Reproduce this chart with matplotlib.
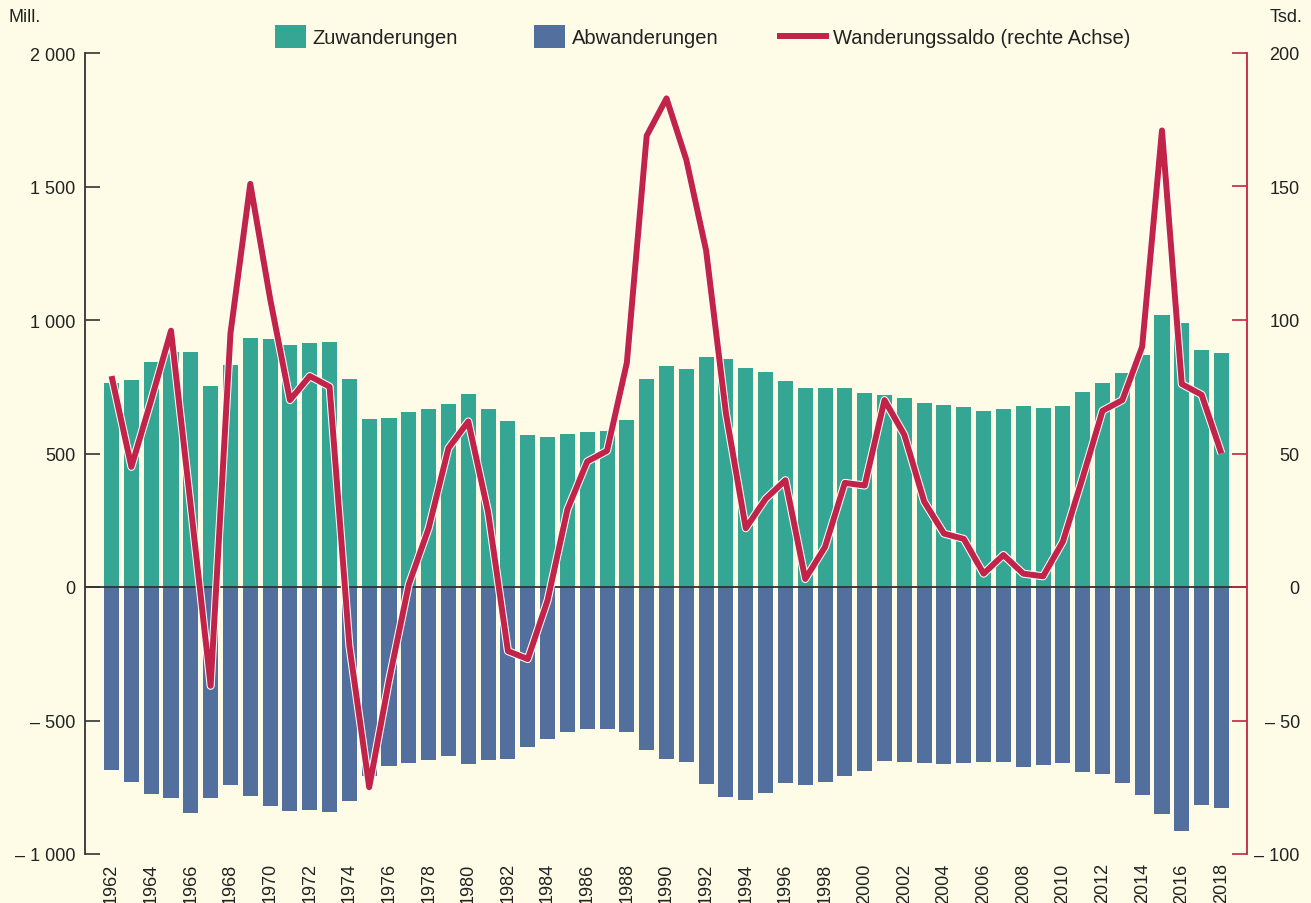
import matplotlib
matplotlib.use("Agg")
import matplotlib.pyplot as plt
import matplotlib.patheffects as pe
from matplotlib.patches import Rectangle, Patch
from matplotlib.lines import Line2D
from matplotlib.legend_handler import HandlerPatch

# ---------------- data ----------------
years = list(range(1962, 2019))
zuwanderungen = [764, 775, 843, 880, 880, 753, 831, 933, 929, 906, 914, 918, 779, 629, 633,
                 655, 667, 685, 723, 667, 622, 569, 562, 573, 580, 584, 625, 779, 828, 816,
                 861, 854, 820, 805, 771, 745, 745, 745, 727, 719, 708, 689, 682, 674, 659,
                 667, 678, 670, 678, 730, 764, 801, 869, 1019, 989, 888, 876]
abwanderungen = [-685, -729, -775, -790, -846, -790, -742, -783, -820, -839, -835, -843, -801,
                 -707, -670, -659, -648, -633, -663, -648, -644, -599, -569, -543, -532, -532,
                 -543, -610, -644, -655, -738, -787, -798, -772, -734, -742, -730, -708, -689,
                 -652, -655, -659, -663, -659, -655, -655, -674, -667, -659, -693, -700, -734,
                 -779, -850, -914, -816, -828]
saldo = [79, 45, 70, 96, 30, -37, 95, 151, 108, 70, 79, 75, -22, -75, -35, 1, 22, 52, 62, 28,
         -24, -27, -5, 29, 47, 51, 84, 169, 183, 160, 126, 65, 22, 33, 40, 3, 15, 39, 38, 70,
         57, 32, 20, 18, 5, 12, 5, 4, 17, 41, 66, 70, 90, 171, 76, 72, 50]

left_ticks = [-1000, -500, 0, 500, 1000, 1500, 2000]
left_labels = ["\u2013 1 000", "\u2013 500", "0", "500", "1 000", "1 500", "2 000"]
right_ticks = [-100, -50, 0, 50, 100, 150, 200]
right_labels = ["\u2013 100", "\u2013 50", "0", "50", "100", "150", "200"]
legend_labels = ["Zuwanderungen", "Abwanderungen", "Wanderungssaldo (rechte Achse)"]

# ---------------- style ----------------
BG = "#FEFCE6"
TEAL = "#35A594"
BLUE = "#526F9E"
RED = "#C12448"
TXT = "#222222"
FONT = ["Liberation Sans", "DejaVu Sans"]
NARROW = ["Liberation Sans Narrow", "Liberation Sans", "DejaVu Sans"]

plt.rcParams["font.family"] = FONT

fig = plt.figure(figsize=(13.11, 9.04), dpi=100, facecolor=BG)
ax = fig.add_axes([85 / 1311, 1 - 855 / 904, (1247 - 85) / 1311, (855 - 54) / 904])
ax.set_facecolor(BG)

ax.bar(years, zuwanderungen, width=0.76, color=TEAL, zorder=2)
ax.bar(years, abwanderungen, width=0.76, color=BLUE, zorder=2)
ax.axhline(0, color="#333333", lw=1.3, zorder=3)

ax.set_xlim(1960.66, 2019.29)
ax.set_ylim(-1000, 2000)
ax.set_yticks(left_ticks)
ax.set_yticklabels(left_labels)
ax.tick_params(axis="y", direction="in", length=11, width=1.2, color="#333333",
               pad=7, labelsize=13, labelcolor=TXT)
ax.set_xticks(years[::2])
ax.set_xticklabels([str(y) for y in years[::2]], rotation=90, family=NARROW)
ax.tick_params(axis="x", length=0, pad=6, labelsize=13, labelcolor=TXT)
for s in ["top", "bottom", "right"]:
    ax.spines[s].set_visible(False)
ax.spines["left"].set_color("#333333")
ax.spines["left"].set_linewidth(1.3)

ax2 = ax.twinx()
ax2.set_ylim(-100, 200)
ax2.plot(years, saldo, color=RED, lw=4.3, solid_joinstyle="round", solid_capstyle="butt",
         zorder=5,
         path_effects=[pe.Stroke(linewidth=5.8, foreground="white", joinstyle="round"),
                       pe.Normal()])
ax2.set_yticks(right_ticks)
ax2.set_yticklabels(right_labels)
ax2.tick_params(axis="y", direction="in", length=11, width=1.2, color=RED,
                pad=38, labelsize=13, labelcolor=TXT)
for t in ax2.get_yticklabels():
    t.set_horizontalalignment("right")
for s in ["top", "bottom", "left"]:
    ax2.spines[s].set_visible(False)
ax2.spines["right"].set_color(RED)
ax2.spines["right"].set_linewidth(1.3)

fig.text(8 / 1311, 1 - 18 / 904, "Mill.", fontsize=13, color=TXT, va="center", ha="left")
fig.text(1302 / 1311, 1 - 18 / 904, "Tsd.", fontsize=13, color=TXT, va="center", ha="right")


class NarrowPatchHandler(HandlerPatch):
    def create_artists(self, legend, orig_handle, xdescent, ydescent, width, height,
                       fontsize, trans):
        w = width * 31 / 46
        p = Rectangle((-xdescent + width - w, -ydescent - 0.3 * height), w, height * 1.6,
                      facecolor=orig_handle.get_facecolor(), edgecolor="none",
                      transform=trans)
        return [p]


handles = [Patch(facecolor=TEAL), Patch(facecolor=BLUE),
           Line2D([0], [0], color=RED, lw=4.3)]
leg = fig.legend(handles, legend_labels, loc="center", bbox_to_anchor=(695 / 1311, 1 - 39 / 904),
                 ncol=3, frameon=False, fontsize=14.5, handlelength=2.29, handletextpad=0.35,
                 columnspacing=3.03, labelcolor=TXT,
                 handler_map={Patch: NarrowPatchHandler()})

fig.savefig("out.png", dpi=100, facecolor=BG)
